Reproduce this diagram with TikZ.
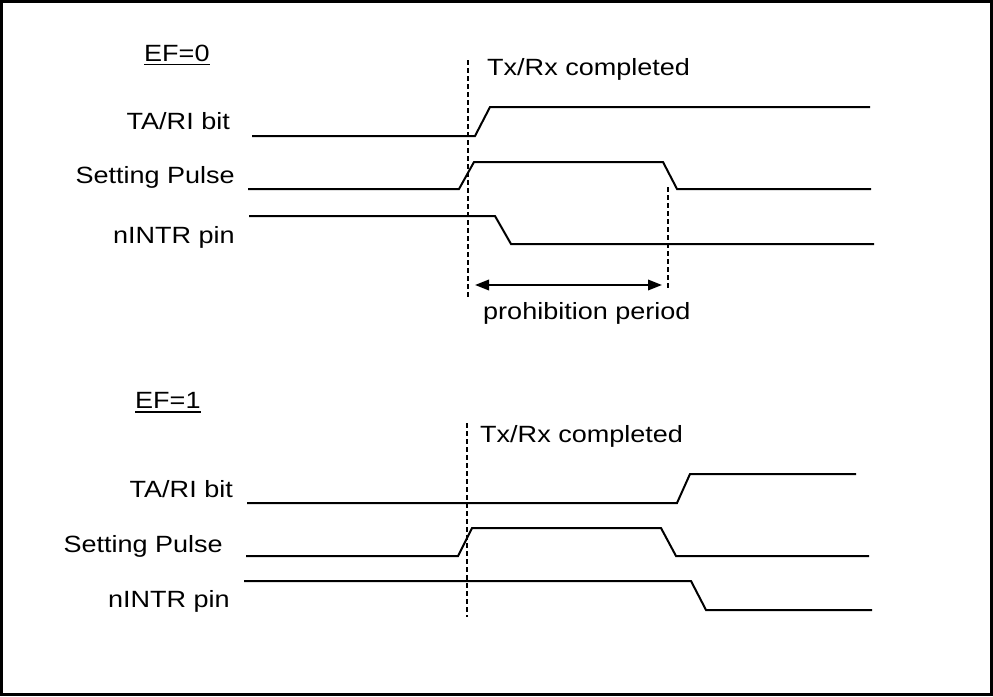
\documentclass[tikz,border=0pt]{standalone}
\usepackage{fontspec}
\setmainfont{Liberation Sans}[FakeStretch=1.15]
\usetikzlibrary{arrows.meta}
\begin{document}
\begin{tikzpicture}[x=1pt,y=-1pt,
  lbl/.style={inner sep=0pt, font=\fontsize{23.5}{28}\selectfont},
  sig/.style={line width=2pt, line join=miter},
  guide/.style={line width=2pt, dash pattern=on 5pt off 3pt},
  period/.style={line width=2pt, {Triangle[length=14pt,width=10.5pt]}-{Triangle[length=14pt,width=10.5pt]}},
  uline/.style={line width=1.5pt}
]
\useasboundingbox (0,0) rectangle (993,696);
\draw[line width=3pt] (1.5,1.5) rectangle (991,694);

% ---------- EF=0 ----------
\node[lbl, anchor=base west] (ef0) at (144,61) {EF=0};
\draw[uline] ([yshift=-3.5pt]ef0.base west) -- ([yshift=-3.5pt]ef0.base east);
\node[lbl, anchor=base west] (tx0) at (487,75) {Tx/Rx completed};
\node[lbl, anchor=base east] (ta0) at (230,129) {TA/RI bit};
\node[lbl, anchor=base east] (sp0) at (235,183) {Setting Pulse};
\node[lbl, anchor=base east] (ni0) at (235,243) {nINTR pin};
\node[lbl, anchor=base west] (pp0) at (483,319) {prohibition period};

\coordinate (d1t) at (468,60);
\coordinate (d1b) at (468,298);
\coordinate (d2t) at (668,187);
\coordinate (d2b) at (668,288);
\draw[guide] (d1t) -- (d1b);
\draw[guide] (d2t) -- (d2b);

\draw[sig] (252,136) -- (475,136) -- (490,107) -- (870,107);
\draw[sig] (248,189) -- (459,189) -- (474,162) -- (663,162) -- (677,189) -- (871,189);
\draw[sig] (249,216) -- (495,216) -- (511,244) -- (874,244);

\coordinate (a1) at (475,285);
\coordinate (a2) at (662,285);
\draw[period] (a1) -- (a2);

% ---------- EF=1 ----------
\node[lbl, anchor=base west] (ef1) at (135,408) {EF=1};
\draw[uline] ([yshift=-4pt]ef1.base west) -- ([yshift=-4pt]ef1.base east);
\node[lbl, anchor=base west] (tx1) at (480,442) {Tx/Rx completed};
\node[lbl, anchor=base east] (ta1) at (233,497) {TA/RI bit};
\node[lbl, anchor=base east] (sp1) at (223,552) {Setting Pulse};
\node[lbl, anchor=base east] (ni1) at (230,607) {nINTR pin};

\coordinate (d3t) at (467,423);
\coordinate (d3b) at (467,617);
\draw[guide] (d3t) -- (d3b);

\draw[sig] (247,503) -- (677,503) -- (690,474) -- (856,474);
\draw[sig] (246,556) -- (458,556) -- (472,528) -- (661,528) -- (676,556) -- (869,556);
\draw[sig] (244,581) -- (691,581) -- (706,610) -- (872,610);
\end{tikzpicture}
\end{document}
